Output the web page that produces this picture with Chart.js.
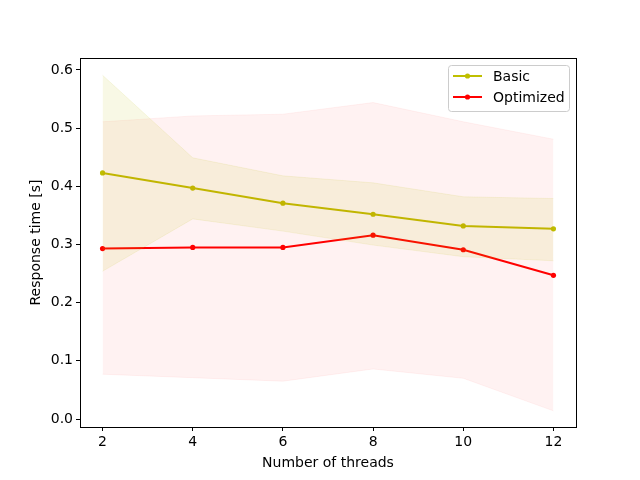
<!DOCTYPE html>
<html>
<head>
<meta charset="utf-8">
<script src="https://cdn.jsdelivr.net/npm/chart.js@4.4.0/dist/chart.umd.min.js"></script>
<style>
  html, body { margin: 0; padding: 0; background: #fff; }
  #wrap { width: 640px; height: 480px; }
</style>
</head>
<body>
<div id="wrap"><canvas id="chart" width="640" height="480"></canvas></div>
<script>
// Data
const threads = [2, 4, 6, 8, 10, 12];
const basicMean = [0.423, 0.397, 0.371, 0.352, 0.332, 0.327];
const basicUpper = [0.591, 0.449, 0.418, 0.406, 0.382, 0.379];
const basicLower = [0.254, 0.344, 0.323, 0.299, 0.279, 0.272];
const optMean = [0.293, 0.295, 0.295, 0.316, 0.291, 0.247];
const optUpper = [0.511, 0.521, 0.524, 0.544, 0.511, 0.481];
const optLower = [0.077, 0.071, 0.065, 0.086, 0.070, 0.014];
const xTicks = [2, 4, 6, 8, 10, 12];
const yTicks = [0.0, 0.1, 0.2, 0.3, 0.4, 0.5, 0.6];

const FONT = 'DejaVu Sans';
const basicColor = '#bfbf00';
const optColor = '#ff0000';

function pts(ys) {
    return threads.map((t, i) => ({x: t, y: ys[i]}));
}

function band(ys, fill, bg) {
    return {
        data: pts(ys),
        borderColor: bg,
        borderWidth: 1,
        backgroundColor: bg,
        pointRadius: 0,
        fill: fill,
        tension: 0,
        isBand: true
    };
}

function meanLine(label, ys, color) {
    return {
        label: label,
        data: pts(ys),
        borderColor: color,
        backgroundColor: color,
        borderWidth: 2,
        pointRadius: 2.6,
        pointHoverRadius: 2.6,
        pointBorderWidth: 0,
        fill: false,
        tension: 0
    };
}

// box around plot area, like matplotlib
const frame = {
    id: 'frame',
    afterDraw(chart) {
        const a = chart.chartArea;
        const ctx = chart.ctx;
        ctx.save();
        ctx.strokeStyle = '#000';
        ctx.lineWidth = 1;
        ctx.strokeRect(a.left + 0.5, a.top + 0.5, a.right - a.left, a.bottom - a.top);
        ctx.restore();
    }
};

// legend box in the upper right corner
const boxLegend = {
    id: 'boxLegend',
    afterDraw(chart) {
        const ctx = chart.ctx;
        const items = chart.data.datasets.filter(d => !d.isBand);
        const x0 = 448, y0 = 65, w = 121, h = 46;
        ctx.save();
        ctx.fillStyle = 'rgba(255,255,255,0.8)';
        ctx.strokeStyle = '#cccccc';
        ctx.lineWidth = 1;
        ctx.beginPath();
        ctx.roundRect(x0 + 0.5, y0 + 0.5, w, h, 3);
        ctx.fill();
        ctx.stroke();
        ctx.font = '14px "' + FONT + '"';
        ctx.textBaseline = 'middle';
        items.forEach((d, i) => {
            const y = 76 + i * 21;
            ctx.strokeStyle = d.borderColor;
            ctx.lineWidth = 2;
            ctx.beginPath();
            ctx.moveTo(453, y);
            ctx.lineTo(482, y);
            ctx.stroke();
            ctx.fillStyle = d.borderColor;
            ctx.beginPath();
            ctx.arc(467.5, y, 2.6, 0, Math.PI * 2);
            ctx.fill();
            ctx.fillStyle = '#000';
            ctx.fillText(d.label, 493, y + 1);
        });
        ctx.restore();
    }
};

new Chart(document.getElementById('chart').getContext('2d'), {
    type: 'line',
    data: {
        datasets: [
            band(basicLower, false, 'rgba(191,191,0,0.1)'),
            band(basicUpper, '-1', 'rgba(191,191,0,0.1)'),
            band(optLower, false, 'rgba(255,0,0,0.05)'),
            band(optUpper, '-1', 'rgba(255,0,0,0.05)'),
            meanLine('Basic', basicMean, basicColor),
            meanLine('Optimized', optMean, optColor)
        ]
    },
    options: {
        responsive: false,
        animation: false,
        events: [],
        layout: { padding: { top: 58, right: 64, left: 0, bottom: 0 } },
        plugins: {
            legend: { display: false },
            tooltip: { enabled: false }
        },
        scales: {
            x: {
                type: 'linear',
                min: 1.5,
                max: 12.5,
                afterBuildTicks: s => { s.ticks = xTicks.map(v => ({value: v})); },
                afterFit: s => { s.height = 53; },
                grid: { drawOnChartArea: false, color: '#000', tickLength: 4 },
                border: { color: '#000', width: 1 },
                ticks: {
                    color: '#000', padding: 3, maxRotation: 0,
                    font: { family: FONT, size: 14 },
                    callback: v => String(v)
                },
                title: {
                    display: true, text: 'Number of threads', color: '#000',
                    font: { family: FONT, size: 14 }, padding: { top: 0, bottom: 8 }
                }
            },
            y: {
                type: 'linear',
                min: -0.01375,
                max: 0.6206,
                afterBuildTicks: s => { s.ticks = yTicks.map(v => ({value: v})); },
                afterFit: s => { s.width = 80; },
                grid: { drawOnChartArea: false, color: '#000', tickLength: 4 },
                border: { color: '#000', width: 1 },
                ticks: {
                    color: '#000', padding: 3,
                    font: { family: FONT, size: 14 },
                    callback: v => v.toFixed(1)
                },
                title: {
                    display: true, text: 'Response time [s]', color: '#000',
                    font: { family: FONT, size: 14 }, padding: { top: 28, bottom: 0 }
                }
            }
        }
    },
    plugins: [frame, boxLegend]
});
</script>
</body>
</html>
